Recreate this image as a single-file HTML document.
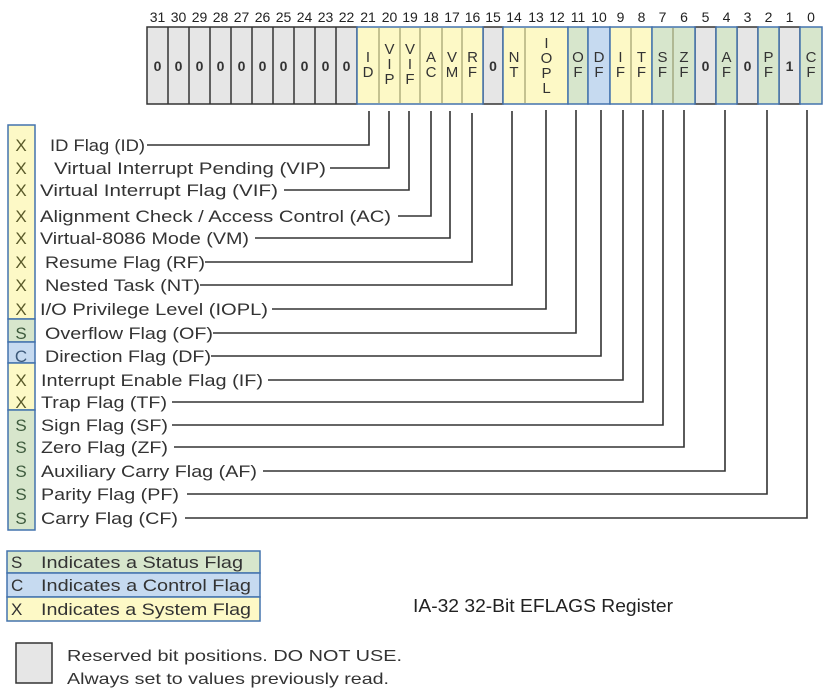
<!DOCTYPE html>
<html><head><meta charset="utf-8"><style>
html,body{margin:0;padding:0;background:#fff;}
svg{display:block;font-family:"Liberation Sans",Arial,sans-serif;}
</style></head><body>
<svg width="828" height="692" viewBox="0 0 828 692" xmlns="http://www.w3.org/2000/svg">
<g font-size="14" fill="#222" text-anchor="middle">
<text x="157.5" y="22">31</text><text x="178.5" y="22">30</text><text x="199.5" y="22">29</text><text x="220.5" y="22">28</text><text x="241.5" y="22">27</text><text x="262.5" y="22">26</text><text x="283.5" y="22">25</text><text x="304.5" y="22">24</text><text x="325.5" y="22">23</text><text x="346.5" y="22">22</text>
<text x="368" y="22">21</text><text x="389.5" y="22">20</text><text x="410" y="22">19</text><text x="431" y="22">18</text><text x="452" y="22">17</text><text x="472.5" y="22">16</text><text x="493" y="22">15</text><text x="514" y="22">14</text><text x="536" y="22">13</text><text x="557" y="22">12</text>
<text x="578" y="22">11</text><text x="599" y="22">10</text><text x="620.5" y="22">9</text><text x="641.5" y="22">8</text><text x="662.5" y="22">7</text><text x="684" y="22">6</text><text x="705.5" y="22">5</text><text x="726.5" y="22">4</text><text x="747.5" y="22">3</text><text x="768.5" y="22">2</text><text x="789.5" y="22">1</text><text x="811" y="22">0</text>
</g>
<g fill="#e6e6e6" stroke="#333" stroke-width="1.5">
<rect x="147" y="27" width="210" height="77"/>
<rect x="483" y="27" width="20" height="77"/>
<rect x="695" y="27" width="21" height="77"/>
<rect x="737" y="27" width="21" height="77"/>
<rect x="779" y="27" width="21" height="77"/>
</g>
<g stroke="#333" stroke-width="1.5">
<line x1="168" y1="27" x2="168" y2="104"/><line x1="189" y1="27" x2="189" y2="104"/><line x1="210" y1="27" x2="210" y2="104"/><line x1="231" y1="27" x2="231" y2="104"/><line x1="252" y1="27" x2="252" y2="104"/><line x1="273" y1="27" x2="273" y2="104"/><line x1="294" y1="27" x2="294" y2="104"/><line x1="315" y1="27" x2="315" y2="104"/><line x1="336" y1="27" x2="336" y2="104"/>
</g>
<g stroke="#4373ad" stroke-width="1.5">
<rect x="357" y="27" width="126" height="77" fill="#fdf9c6"/>
<rect x="503" y="27" width="65" height="77" fill="#fdf9c6"/>
<rect x="568" y="27" width="20" height="77" fill="#d7e6cc"/>
<rect x="588" y="27" width="22" height="77" fill="#c6daf0"/>
<rect x="610" y="27" width="42" height="77" fill="#fdf9c6"/>
<rect x="652" y="27" width="43" height="77" fill="#d7e6cc"/>
<rect x="716" y="27" width="21" height="77" fill="#d7e6cc"/>
<rect x="758" y="27" width="21" height="77" fill="#d7e6cc"/>
<rect x="800" y="27" width="22" height="77" fill="#d7e6cc"/>
</g>
<g stroke="#8a8a5a" stroke-width="1">
<line x1="379" y1="28" x2="379" y2="103"/><line x1="400" y1="28" x2="400" y2="103"/><line x1="420" y1="28" x2="420" y2="103"/><line x1="442" y1="28" x2="442" y2="103"/><line x1="462" y1="28" x2="462" y2="103"/>
<line x1="525" y1="28" x2="525" y2="103"/><line x1="631" y1="28" x2="631" y2="103"/><line x1="673" y1="28" x2="673" y2="103"/>
</g>
<g font-size="15" fill="#333" text-anchor="middle">
<g font-weight="bold" font-size="14">
<text x="157.5" y="71">0</text><text x="178.5" y="71">0</text><text x="199.5" y="71">0</text><text x="220.5" y="71">0</text><text x="241.5" y="71">0</text><text x="262.5" y="71">0</text><text x="283.5" y="71">0</text><text x="304.5" y="71">0</text><text x="325.5" y="71">0</text><text x="346.5" y="71">0</text>
<text x="493" y="71">0</text><text x="705.5" y="71">0</text><text x="747.5" y="71">0</text><text x="789.5" y="71">1</text>
</g>
<text x="368" y="62">I</text><text x="368" y="77">D</text>
<text x="389.5" y="54">V</text><text x="389.5" y="69">I</text><text x="389.5" y="84">P</text>
<text x="410" y="54">V</text><text x="410" y="69">I</text><text x="410" y="84">F</text>
<text x="431" y="62">A</text><text x="431" y="77">C</text>
<text x="452" y="62">V</text><text x="452" y="77">M</text>
<text x="472.5" y="62">R</text><text x="472.5" y="77">F</text>
<text x="514" y="62">N</text><text x="514" y="77">T</text>
<text x="546.5" y="48">I</text><text x="546.5" y="63">O</text><text x="546.5" y="78">P</text><text x="546.5" y="93">L</text>
<text x="578" y="62">O</text><text x="578" y="77">F</text>
<text x="599" y="62">D</text><text x="599" y="77">F</text>
<text x="620.5" y="62">I</text><text x="620.5" y="77">F</text>
<text x="641.5" y="62">T</text><text x="641.5" y="77">F</text>
<text x="662.5" y="62">S</text><text x="662.5" y="77">F</text>
<text x="684" y="62">Z</text><text x="684" y="77">F</text>
<text x="726.5" y="62">A</text><text x="726.5" y="77">F</text>
<text x="768.5" y="62">P</text><text x="768.5" y="77">F</text>
<text x="811" y="62">C</text><text x="811" y="77">F</text>
</g>
<g stroke="#333" stroke-width="1.6" fill="none">
<polyline points="147,145 369,145 369,111"/>
<polyline points="330,168 389,168 389,111"/>
<polyline points="284,190 409,190 409,111"/>
<polyline points="398,216 431,216 431,111"/>
<polyline points="255,238 450,238 450,111"/>
<polyline points="205,262 472,262 472,113"/>
<polyline points="200,285 512,285 512,111"/>
<polyline points="272,309 546,309 546,110"/>
<polyline points="213,333 576,333 576,110"/>
<polyline points="211,356 601,356 601,110"/>
<polyline points="268,380 623,380 623,110"/>
<polyline points="172,402 643,402 643,110"/>
<polyline points="172,425 663,425 663,110"/>
<polyline points="174,447 684,447 684,110"/>
<polyline points="263,471 725,471 725,110"/>
<polyline points="187,494 767,494 767,110"/>
<polyline points="185,518 807,518 807,110"/>
</g>
<g stroke="#4373ad" stroke-width="1.5">
<rect x="8" y="125" width="27" height="194" fill="#fdf9c6"/>
<rect x="8" y="319" width="27" height="23" fill="#d7e6cc"/>
<rect x="8" y="342" width="27" height="21" fill="#c6daf0"/>
<rect x="8" y="363" width="27" height="47" fill="#fdf9c6"/>
<rect x="8" y="410" width="27" height="120" fill="#d7e6cc"/>
</g>
<g font-size="17" text-anchor="middle" fill="#5a5a2a">
<text x="21" y="151">X</text><text x="21" y="174">X</text><text x="21" y="196">X</text><text x="21" y="222">X</text><text x="21" y="244">X</text><text x="21" y="268">X</text><text x="21" y="291">X</text><text x="21" y="315">X</text>
<text x="21" y="339" fill="#3d5a3d">S</text><text x="21" y="362" fill="#3d5a7a">C</text>
<text x="21" y="386">X</text><text x="21" y="408">X</text>
<g fill="#3d5a3d"><text x="21" y="431">S</text><text x="21" y="453">S</text><text x="21" y="477">S</text><text x="21" y="500">S</text><text x="21" y="524">S</text></g>
</g>
<g font-size="17" fill="#333">
<text x="50" y="151" textLength="95" lengthAdjust="spacingAndGlyphs">ID Flag (ID)</text>
<text x="54" y="174" textLength="272" lengthAdjust="spacingAndGlyphs">Virtual Interrupt Pending (VIP)</text>
<text x="40" y="196" textLength="238" lengthAdjust="spacingAndGlyphs">Virtual Interrupt Flag (VIF)</text>
<text x="40" y="222" textLength="351" lengthAdjust="spacingAndGlyphs">Alignment Check / Access Control (AC)</text>
<text x="40" y="244" textLength="209" lengthAdjust="spacingAndGlyphs">Virtual-8086 Mode (VM)</text>
<text x="45" y="268" textLength="160" lengthAdjust="spacingAndGlyphs">Resume Flag (RF)</text>
<text x="45" y="291" textLength="155" lengthAdjust="spacingAndGlyphs">Nested Task (NT)</text>
<text x="40" y="315" textLength="228" lengthAdjust="spacingAndGlyphs">I/O Privilege Level (IOPL)</text>
<text x="45" y="339" textLength="168" lengthAdjust="spacingAndGlyphs">Overflow Flag (OF)</text>
<text x="45" y="362" textLength="166" lengthAdjust="spacingAndGlyphs">Direction Flag (DF)</text>
<text x="41" y="386" textLength="222" lengthAdjust="spacingAndGlyphs">Interrupt Enable Flag (IF)</text>
<text x="41" y="408" textLength="126" lengthAdjust="spacingAndGlyphs">Trap Flag (TF)</text>
<text x="41" y="431" textLength="127" lengthAdjust="spacingAndGlyphs">Sign Flag (SF)</text>
<text x="41" y="453" textLength="127" lengthAdjust="spacingAndGlyphs">Zero Flag (ZF)</text>
<text x="41" y="477" textLength="216" lengthAdjust="spacingAndGlyphs">Auxiliary Carry Flag (AF)</text>
<text x="41" y="500" textLength="138" lengthAdjust="spacingAndGlyphs">Parity Flag (PF)</text>
<text x="41" y="524" textLength="137" lengthAdjust="spacingAndGlyphs">Carry Flag (CF)</text>
</g>
<g stroke="#4373ad" stroke-width="1.5">
<rect x="7" y="551" width="253" height="22" fill="#d7e6cc"/>
<rect x="7" y="573" width="253" height="24" fill="#c6daf0"/>
<rect x="7" y="597" width="253" height="24" fill="#fdf9c6"/>
</g>
<g font-size="17" fill="#333">
<text x="11" y="568">S</text><text x="41" y="568" textLength="202" lengthAdjust="spacingAndGlyphs">Indicates a Status Flag</text>
<text x="11" y="591">C</text><text x="41" y="591" textLength="210" lengthAdjust="spacingAndGlyphs">Indicates a Control Flag</text>
<text x="11" y="615">X</text><text x="41" y="615" textLength="210" lengthAdjust="spacingAndGlyphs">Indicates a System Flag</text>
</g>
<text x="413" y="612" font-size="18" fill="#222" textLength="260" lengthAdjust="spacingAndGlyphs">IA-32 32-Bit EFLAGS Register</text>
<rect x="16" y="643" width="36" height="40" fill="#e6e6e6" stroke="#333" stroke-width="1.5"/>
<g font-size="16" fill="#333">
<text x="67" y="661" textLength="335" lengthAdjust="spacingAndGlyphs">Reserved bit positions. DO NOT USE.</text>
<text x="67" y="684" textLength="322" lengthAdjust="spacingAndGlyphs">Always set to values previously read.</text>
</g>
</svg>
</body></html>
